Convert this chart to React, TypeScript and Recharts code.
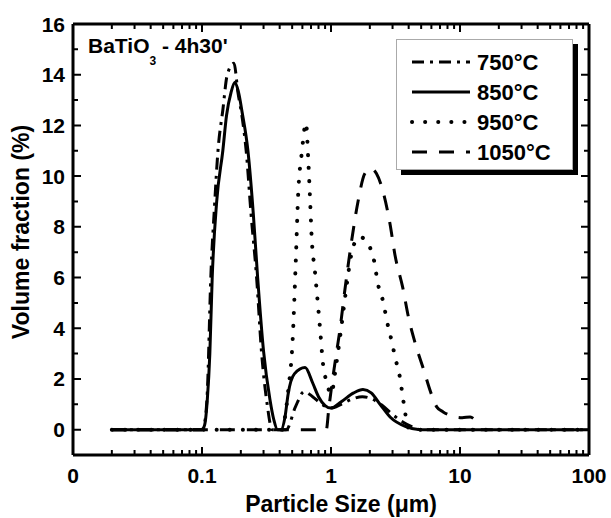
import { LineChart, Line, XAxis, YAxis, ReferenceLine } from 'recharts'

const FONT = '"Liberation Sans", Arial, Helvetica, sans-serif'

// particle size (µm) / volume fraction (%)
const size750 = [0.02, 0.1, 0.105, 0.11, 0.117, 0.125, 0.133, 0.145, 0.157, 0.177, 0.19, 0.205, 0.22, 0.24, 0.265, 0.29, 0.32, 0.35, 0.45, 0.53, 0.62, 0.72, 0.85, 1.0, 1.2, 1.45, 1.75, 2.1, 2.5, 3.0, 3.6, 4.3, 5.0, 100]
const vol750 = [0, 0, 0.3, 1.5, 6.0, 8.8, 11.0, 12.6, 14.0, 14.45, 13.3, 12.3, 11.0, 8.5, 6.0, 3.0, 1.0, 0, 0, 0.9, 1.5, 1.3, 1.0, 0.85, 1.0, 1.2, 1.3, 1.2, 0.95, 0.6, 0.3, 0.1, 0, 0]

const size850 = [0.02, 0.1, 0.105, 0.11, 0.115, 0.12, 0.13, 0.145, 0.155, 0.168, 0.18, 0.192, 0.205, 0.227, 0.25, 0.27, 0.3, 0.336, 0.36, 0.385, 0.41, 0.44, 0.465, 0.52, 0.63, 0.72, 0.8, 0.9, 1.0, 1.2, 1.5, 1.77, 2.05, 2.4, 2.87, 3.8, 4.9, 100]
const vol850 = [0, 0, 0.2, 1.2, 3.0, 6.0, 9.0, 11.0, 12.4, 13.3, 13.7, 13.3, 12.5, 11.0, 8.5, 6.0, 3.1, 1.2, 0.4, 0, 0, 0.5, 1.4, 2.2, 2.45, 1.85, 1.3, 0.95, 0.85, 1.1, 1.45, 1.58, 1.45, 1.0, 0.5, 0.12, 0, 0]

const size950 = [0.02, 0.42, 0.44, 0.465, 0.505, 0.532, 0.558, 0.593, 0.64, 0.667, 0.688, 0.708, 0.752, 0.798, 0.822, 0.867, 0.93, 1.0, 1.1, 1.2, 1.3, 1.45, 1.65, 1.85, 2.0, 2.17, 2.3, 2.55, 2.71, 2.95, 3.16, 3.41, 3.6, 3.75, 3.95, 4.2, 100]
const vol950 = [0, 0, 0.5, 1.5, 3.6, 6.5, 9.4, 10.9, 12.1, 10.6, 9.1, 7.6, 6.2, 4.75, 4.0, 2.6, 1.85, 1.4, 2.6, 4.0, 5.4, 7.0, 7.6, 7.5, 7.2, 6.6, 5.8, 5.0, 4.3, 3.5, 2.8, 2.1, 1.3, 0.7, 0.1, 0, 0]

const size1050 = [0.02, 0.92, 0.96, 1.03, 1.1, 1.17, 1.28, 1.45, 1.62, 1.83, 2.04, 2.25, 2.53, 2.87, 3.13, 3.6, 4.0, 4.5, 5.2, 6.0, 6.6, 7.4, 8.5, 10.4, 12, 13]
const vol1050 = [0, 0, 0.8, 2.0, 3.0, 3.9, 5.5, 7.5, 9.0, 10.1, 10.3, 10.1, 9.4, 8.1, 6.9, 5.6, 4.4, 3.4, 2.4, 1.4, 0.9, 0.7, 0.55, 0.47, 0.5, 0.4]

const seriesNames = ['750°C', '850°C', '950°C', '1050°C']

const xMajorTicks = [0.01, 0.1, 1, 10, 100]
const xMajorLabels = ['0', '0.1', '1', '10', '100']
const xMinorSteps = [2, 3, 4, 5, 6, 7, 8, 9]
const yTicks = [0, 1, 2, 3, 4, 5, 6, 7, 8, 9, 10, 11, 12, 13, 14, 15, 16]
const yMajorTicks = [0, 2, 4, 6, 8, 10, 12, 14, 16]
const xDomain = [0.01, 100]
const yDomain = [-1, 16]

const toPoints = (xs: number[], ys: number[]) => xs.map((x, i) => ({ x, y: ys[i] }))

const series = [
  { name: seriesNames[0], data: toPoints(size750, vol750), dash: '12 6 3 6', cap: 'butt', width: 3 },
  { name: seriesNames[1], data: toPoints(size850, vol850), dash: undefined, cap: 'butt', width: 3 },
  { name: seriesNames[2], data: toPoints(size950, vol950), dash: '0.1 13', cap: 'round', width: 4 },
  { name: seriesNames[3], data: toPoints(size1050, vol1050), dash: '15 12', cap: 'butt', width: 3 },
]

const xTicks = [
  ...xMajorTicks,
  ...xMajorTicks.slice(0, -1).flatMap((d) => xMinorSteps.map((m) => +(d * m).toPrecision(6))),
].sort((a, b) => a - b)

const majorIndex = (v: number) => xMajorTicks.findIndex((t) => Math.abs(t - v) < t * 1e-6)

// chart box: plot area runs 73..589 x 24..455
const W = 611
const H = 518
const MARGIN = { top: 24, right: 22, left: 13, bottom: 23 }
const PLOT_W = W - MARGIN.left - 60 - MARGIN.right
const PLOT_H = H - MARGIN.top - MARGIN.bottom - 40

// tick lengths (px) turned into data units, drawn as short line pieces through the scales
const yPerPx = (yDomain[1] - yDomain[0]) / PLOT_H
const decadesPerPx = Math.log10(xDomain[1] / xDomain[0]) / PLOT_W
const tickLen = (major: boolean) => (major ? 8 : 5)

type Pt = { x: number; y: number | null }

function xTickPieces(base: number, dir: number): Pt[] {
  return xTicks.flatMap((v) => {
    const dy = tickLen(majorIndex(v) >= 0) * yPerPx * dir
    return [{ x: v, y: base }, { x: v, y: base + dy }, { x: v, y: null }]
  })
}

function yTickPieces(base: number, dir: number): Pt[] {
  return yTicks.flatMap((v) => {
    const f = Math.pow(10, tickLen(yMajorTicks.includes(v)) * decadesPerPx * dir)
    return [{ x: base, y: v }, { x: base * f, y: v }, { x: base, y: null }]
  })
}

const tickPieces = [
  { key: 'tb', data: xTickPieces(yDomain[0], 1) },
  { key: 'tt', data: xTickPieces(yDomain[1], -1) },
  { key: 'tl', data: yTickPieces(xDomain[0], 1) },
  { key: 'tr', data: yTickPieces(xDomain[1], -1) },
]

const labelStyle = { fontFamily: FONT, fontWeight: 'bold' as const, fill: '#000' }

function bottomTick(props: any) {
  const x = Number(props.x), y = Number(props.y)
  const i = majorIndex(props.payload.value)
  if (i < 0) return <g />
  return (
    <text x={x} y={y + 28} textAnchor="middle" fontSize={21} {...labelStyle}>
      {xMajorLabels[i]}
    </text>
  )
}

function leftTick(props: any) {
  const x = Number(props.x), y = Number(props.y)
  if (!yMajorTicks.includes(props.payload.value)) return <g />
  return (
    <text x={x - 8} y={y + 7.5} textAnchor="end" fontSize={21} {...labelStyle}>
      {props.payload.value}
    </text>
  )
}

function LegendBox() {
  return (
    <div
      style={{
        position: 'absolute', left: 396, top: 39, width: 177, height: 131,
        boxSizing: 'border-box', border: '1px solid #aaa', background: '#fff',
        boxShadow: '5px 5px 0 #000',
      }}
    >
      <svg width={177} height={131} style={{ position: 'absolute', left: -1, top: -1 }}>
        {series.map((s, i) => {
          const cy = 23 + i * 30
          return (
            <g key={s.name}>
              <line x1={16} x2={74} y1={cy} y2={cy} stroke="#000" strokeWidth={s.width}
                strokeDasharray={s.dash} strokeLinecap={s.cap as any} />
              <text x={81} y={cy + 8} fontSize={22} {...labelStyle}>{s.name}</text>
            </g>
          )
        })}
      </svg>
    </div>
  )
}

export default function App() {
  const axisLine = { stroke: '#000', strokeWidth: 3 }
  return (
    <div style={{ position: 'absolute', left: 0, top: 0, width: W, height: H, background: '#fff' }}>
      <LineChart width={W} height={H} margin={MARGIN}>
        <XAxis dataKey="x" type="number" scale="log" domain={xDomain} allowDataOverflow
          ticks={xTicks} interval={0} tick={bottomTick} tickLine={false}
          tickSize={0} tickMargin={0} axisLine={axisLine} height={40} />
        <YAxis type="number" domain={yDomain} allowDataOverflow ticks={yTicks} interval={0}
          tick={leftTick} tickLine={false} tickSize={0} tickMargin={0}
          axisLine={axisLine} width={60} />
        {/* frame top + right */}
        <ReferenceLine y={yDomain[1]} stroke="#000" strokeWidth={3} />
        <ReferenceLine x={xDomain[1]} stroke="#000" strokeWidth={3} />
        {/* inward ticks on all four sides */}
        {tickPieces.map((t) => (
          <Line key={t.key} data={t.data} dataKey="y" type="linear" stroke="#000"
            strokeWidth={2} connectNulls={false} dot={false} activeDot={false}
            legendType="none" isAnimationActive={false} />
        ))}
        {series.map((s) => (
          <Line key={s.name} data={s.data} dataKey="y" name={s.name} type="monotone"
            stroke="#000" strokeWidth={s.width} strokeDasharray={s.dash}
            strokeLinecap={s.cap as any} dot={false} activeDot={false}
            isAnimationActive={false} />
        ))}
      </LineChart>
      <LegendBox />
      <svg width={W} height={H} style={{ position: 'absolute', left: 0, top: 0, pointerEvents: 'none' }}>
        <text x={88} y={53} fontSize={21} {...labelStyle}>
          BaTiO<tspan fontSize={12} dy={12}>3</tspan><tspan dy={-12}> - 4h30'</tspan>
        </text>
        <text x={341} y={512} textAnchor="middle" fontSize={23} {...labelStyle}>
          Particle Size (μm)
        </text>
        <text transform="translate(29,232) rotate(-90)" textAnchor="middle" fontSize={23} {...labelStyle}>
          Volume fraction (%)
        </text>
      </svg>
    </div>
  )
}
